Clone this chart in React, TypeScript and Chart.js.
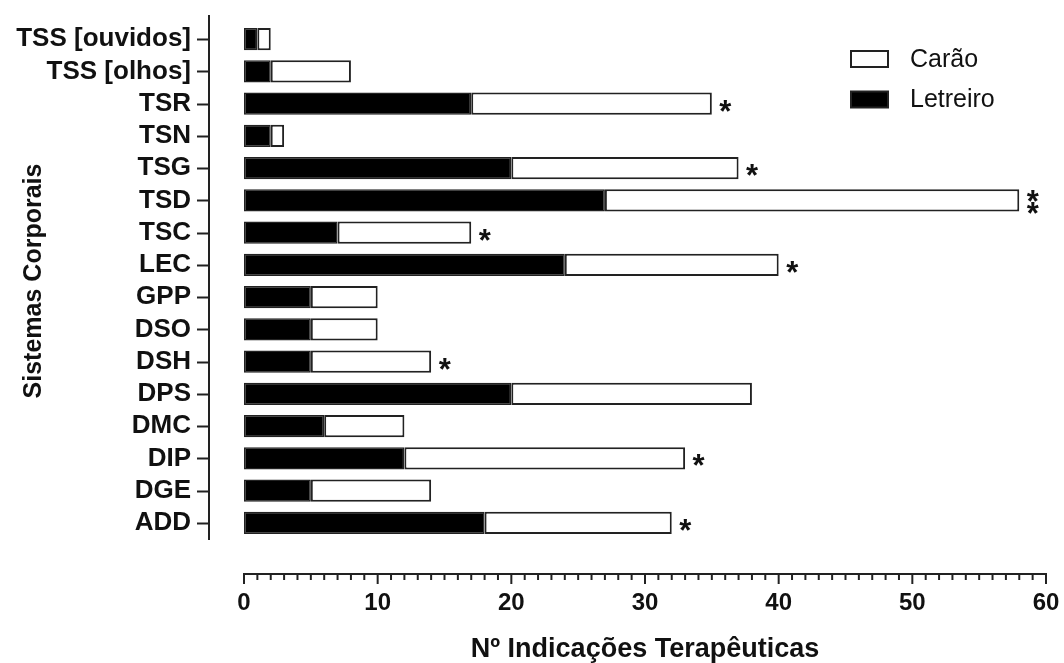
import { useEffect, useRef } from "react";
import { Chart, registerables } from "chart.js";

Chart.register(...registerables);

const categories = [
  "TSS [ouvidos]",
  "TSS [olhos]",
  "TSR",
  "TSN",
  "TSG",
  "TSD",
  "TSC",
  "LEC",
  "GPP",
  "DSO",
  "DSH",
  "DPS",
  "DMC",
  "DIP",
  "DGE",
  "ADD",
];
const letreiro = [1, 2, 17, 2, 20, 27, 7, 24, 5, 5, 5, 20, 6, 12, 5, 18];
const carao = [1, 6, 18, 1, 17, 31, 10, 16, 5, 5, 9, 18, 6, 21, 9, 14];
const significance = ["", "", "*", "", "*", "**", "*", "*", "", "", "*", "", "", "*", "", "*"];
const xTicks = [0, 10, 20, 30, 40, 50, 60];

const FAMILY = "'Liberation Sans', Arial, Helvetica, sans-serif";
const INK = "#111111";
const EDGE = "#222222";

const axesPlugin = {
  id: "customAxes",
  afterDraw(chart: any) {
    const { ctx, chartArea, scales } = chart;
    const xs = scales.x;
    const ys = scales.y;
    ctx.save();
    ctx.strokeStyle = EDGE;
    ctx.lineWidth = 2;
    ctx.lineCap = "butt";
    // y axis (offset to the left of the plot)
    const yAxisX = chartArea.left - 35;
    ctx.beginPath();
    ctx.moveTo(yAxisX, chartArea.top - 8);
    ctx.lineTo(yAxisX, chartArea.bottom + 1);
    ctx.stroke();
    categories.forEach((_, i) => {
      const py = Math.round(ys.getPixelForValue(i)) + 0.5;
      ctx.beginPath();
      ctx.moveTo(yAxisX - 12, py);
      ctx.lineTo(yAxisX, py);
      ctx.stroke();
    });
    // x axis (offset below the plot)
    const axisY = chartArea.bottom + 35;
    const x0 = xs.getPixelForValue(xs.min);
    const x1 = xs.getPixelForValue(xs.max);
    ctx.beginPath();
    ctx.moveTo(x0 - 1, axisY);
    ctx.lineTo(x1 + 1, axisY);
    ctx.stroke();
    for (let v = xs.min; v <= xs.max; v += 1) {
      const px = xs.getPixelForValue(v);
      const major = xTicks.includes(v);
      ctx.beginPath();
      ctx.moveTo(px, axisY);
      ctx.lineTo(px, axisY + (major ? 10 : 6));
      ctx.stroke();
    }
    ctx.restore();
  },
};

const starsPlugin = {
  id: "stars",
  afterDatasetsDraw(chart: any) {
    const { ctx, scales } = chart;
    const xs = scales.x;
    const ys = scales.y;
    ctx.save();
    ctx.fillStyle = INK;
    ctx.font = `bold 31px ${FAMILY}`;
    ctx.textAlign = "left";
    ctx.textBaseline = "alphabetic";
    const m = ctx.measureText("*");
    const w = m.actualBoundingBoxRight - m.actualBoundingBoxLeft;
    const dv = m.actualBoundingBoxDescent - m.actualBoundingBoxAscent;
    significance.forEach((s, i) => {
      if (!s) return;
      const end = xs.getPixelForValue(letreiro[i] + carao[i]);
      const cy = ys.getPixelForValue(i) + 2;
      const n = s.length;
      for (let k = 0; k < n; k++) {
        const sy = cy + (k - (n - 1) / 2) * 12;
        const cx = end + 14;
        ctx.fillText("*", cx - w / 2 + m.actualBoundingBoxLeft, sy - dv / 2);
      }
    });
    ctx.restore();
  },
};

const legendPlugin = {
  id: "boxLegend",
  afterDraw(chart: any) {
    const { ctx } = chart;
    const items = [...chart.data.datasets].reverse();
    ctx.save();
    ctx.font = `25px ${FAMILY}`;
    ctx.textAlign = "left";
    ctx.textBaseline = "middle";
    items.forEach((ds: any, k: number) => {
      const top = 51 + k * 40.5;
      ctx.fillStyle = ds.backgroundColor;
      ctx.strokeStyle = EDGE;
      ctx.lineWidth = 2;
      ctx.fillRect(851, top, 37, 16);
      ctx.strokeRect(851, top, 37, 16);
      ctx.fillStyle = INK;
      ctx.fillText(ds.label, 910, top + 9);
    });
    ctx.restore();
  },
};

export default function App() {
  const ref = useRef<HTMLCanvasElement | null>(null);

  useEffect(() => {
    if (!ref.current) return;
    const chart = new Chart(ref.current, {
      type: "bar",
      data: {
        labels: categories,
        datasets: [
          {
            label: "Letreiro",
            data: letreiro,
            backgroundColor: "#000000",
            borderColor: EDGE,
            borderWidth: 1.5,
            borderSkipped: false,
            barPercentage: 0.685,
            categoryPercentage: 1,
          },
          {
            label: "Carão",
            data: carao,
            backgroundColor: "#ffffff",
            borderColor: EDGE,
            borderWidth: 2,
            borderSkipped: false,
            barPercentage: 0.685,
            categoryPercentage: 1,
          },
        ],
      },
      options: {
        indexAxis: "y",
        responsive: false,
        animation: false,
        layout: { padding: { top: 23, right: 18, left: 0, bottom: 0 } },
        plugins: {
          legend: { display: false },
          tooltip: { enabled: false },
        },
        scales: {
          x: {
            type: "linear",
            stacked: true,
            min: 0,
            max: 60,
            grid: { display: false, drawTicks: false },
            border: { display: false },
            afterBuildTicks: (s: any) => {
              s.ticks = xTicks.map((v) => ({ value: v }));
            },
            ticks: {
              padding: 52,
              color: INK,
              font: { size: 24, weight: "bold", family: FAMILY, lineHeight: 1 },
            },
            title: {
              display: true,
              text: "Nº Indicações Terapêuticas",
              color: INK,
              font: { size: 27, weight: "bold", family: FAMILY, lineHeight: 1 },
              padding: { top: 0, bottom: 0 },
            },
            afterFit: (s: any) => {
              s.height = 124;
              s.paddingLeft = 0;
              s.paddingRight = 0;
              s.paddingTop = 0;
              s.paddingBottom = 0;
            },
          },
          y: {
            type: "category",
            stacked: true,
            grid: { display: false, drawTicks: false },
            border: { display: false },
            ticks: {
              padding: 53,
              autoSkip: false,
              color: INK,
              font: { size: 26, weight: "bold", family: FAMILY, lineHeight: 1 },
            },
            title: {
              display: true,
              text: "Sistemas Corporais",
              color: INK,
              font: { size: 25, weight: "bold", family: FAMILY, lineHeight: 1 },
              padding: { top: 22, bottom: 0 },
            },
            afterFit: (s: any) => {
              s.width = 244;
              s.paddingLeft = 0;
              s.paddingRight = 0;
              s.paddingTop = 0;
              s.paddingBottom = 0;
            },
          },
        },
      } as any,
      plugins: [axesPlugin, starsPlugin, legendPlugin],
    });
    return () => chart.destroy();
  }, []);

  return (
    <div style={{ position: "fixed", left: 0, top: 0, width: 1064, height: 663, background: "#fff" }}>
      <canvas ref={ref} width={1064} height={663} style={{ display: "block" }} />
    </div>
  );
}
